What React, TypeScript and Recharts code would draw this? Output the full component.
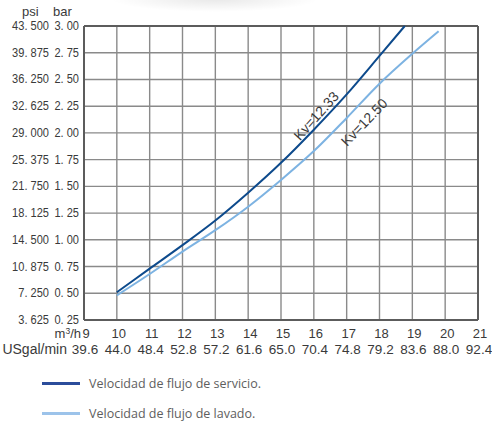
import React from 'react';
import { LineChart, Line, XAxis, YAxis, CartesianGrid, ReferenceLine, ReferenceDot, Label } from 'recharts';

// caudal m³/h y caída de presión (bar)
const servicioFlow = [10, 11, 12, 13, 14, 15, 16, 17, 18, 18.77];
const servicioBar = [0.51, 0.73, 0.95, 1.18, 1.44, 1.72, 2.03, 2.36, 2.72, 3.0];
const lavadoFlow = [10, 11, 12, 13, 14, 15, 16, 17, 18, 19, 19.8];
const lavadoBar = [0.48, 0.68, 0.89, 1.09, 1.31, 1.56, 1.83, 2.14, 2.46, 2.74, 2.95];

const xTicks = [9, 10, 11, 12, 13, 14, 15, 16, 17, 18, 19, 20, 21];
const gpmLabels = ['39.6', '44.0', '48.4', '52.8', '57.2', '61.6', '65.0', '70.4', '74.8', '79.2', '83.6', '88.0', '92.4'];
const yTicks = [0.25, 0.5, 0.75, 1.0, 1.25, 1.5, 1.75, 2.0, 2.25, 2.5, 2.75, 3.0];
const psiLabels = ['3. 625', '7. 250', '10. 875', '14. 500', '18. 125', '21. 750', '25. 375', '29. 000', '32. 625', '36. 250', '39. 875', '43. 500'];
const barLabels = ['0. 25', '0. 50', '0. 75', '1. 00', '1. 25', '1. 50', '1. 75', '2. 00', '2. 25', '2. 50', '2. 75', '3. 00'];

const servicioData = servicioFlow.map((q, i) => ({ q, p: servicioBar[i] }));
const lavadoData = lavadoFlow.map((q, i) => ({ q, p: lavadoBar[i] }));

const DARK = '#0d4a8c';
const LIGHT = '#7db3e2';
const GRID = '#8a8a8a';
const FRAME = '#5c5c5c';
const TXT = '#3a3a3a';
const SANS = '"Liberation Sans", Arial, sans-serif';

const XTick = (props: any) => {
  const { x, y, payload } = props;
  const i = xTicks.indexOf(payload.value);
  return (
    <g fontFamily={SANS} fontSize={13} fill={TXT}>
      <text x={x + 2} y={y + 18} textAnchor="middle" fill={TXT}>{payload.value}</text>
      <text x={x + 1} y={y + 34} textAnchor="middle" fill={TXT} fontSize={13.5}>{gpmLabels[i]}</text>
      {i === 0 && (
        <>
          <text x={x - 3} y={y + 18} textAnchor="end" fill={TXT}>m<tspan fontSize={8.5} dy={-4}>3</tspan><tspan dy={4}>/h</tspan></text>
          <text x={x - 17} y={y + 34} textAnchor="end" fill={TXT} fontSize={14}>USgal/min</text>
        </>
      )}
    </g>
  );
};

// etiquetas estrechas (condensadas) como en el original
const NarrowText = ({ x, y, children }: any) => (
  <text transform={`translate(${x}, ${y}) scale(0.82, 1)`} textAnchor="end" fill={TXT}>{children}</text>
);

const YTick = (props: any) => {
  const { x, y, payload } = props;
  const i = yTicks.indexOf(payload.value);
  return (
    <g fontFamily={SANS} fontSize={13.5} fill={TXT}>
      <NarrowText x={x - 35} y={y + 4}>{psiLabels[i]}</NarrowText>
      <NarrowText x={x - 5} y={y + 4}>{barLabels[i]}</NarrowText>
      {i === yTicks.length - 1 && (
        <g fontSize={13}>
          <text x={x - 62} y={y - 10} fill={TXT}>psi</text>
          <text x={x - 31} y={y - 10} fill={TXT}>bar</text>
        </g>
      )}
    </g>
  );
};

const LegendRow = ({ color, text }: { color: string; text: string }) => (
  <div style={{ display: 'flex', alignItems: 'center', height: 30 }}>
    <div style={{ width: 38, height: 3, background: color, marginRight: 9 }} />
    <span style={{ fontFamily: '"Open Sans", sans-serif', fontSize: 12.5, color: '#5e5e5e' }}>{text}</span>
  </div>
);

export default function App() {
  return (
    <div style={{ position: 'absolute', left: 0, top: 0, width: 492, height: 421, background: '#fff', overflow: 'hidden' }}>
      <div style={{ position: 'absolute', left: 110, top: -14, width: 210, height: 26, background: 'radial-gradient(ellipse at center, rgba(0,0,0,0.09), rgba(0,0,0,0) 70%)' }} />
      <LineChart width={492} height={421} margin={{ top: 26, right: 14, bottom: 61, left: 0 }}>
        <CartesianGrid stroke={GRID} strokeWidth={1.4} />
        <XAxis
          type="number"
          dataKey="q"
          domain={[9, 21]}
          ticks={xTicks}
          interval={0}
          height={40}
          tickSize={0}
          tickMargin={0}
          axisLine={{ stroke: FRAME, strokeWidth: 2 }}
          tick={<XTick />}
        />
        <YAxis
          type="number"
          dataKey="p"
          domain={[0.25, 3]}
          ticks={yTicks}
          interval={0}
          width={84}
          tickSize={0}
          tickMargin={0}
          axisLine={{ stroke: FRAME, strokeWidth: 2 }}
          tick={<YTick />}
        />
        <ReferenceLine x={21} stroke={FRAME} strokeWidth={2} />
        <ReferenceLine y={3} stroke={FRAME} strokeWidth={2} />
        <Line data={servicioData} dataKey="p" type="monotone" stroke={DARK} strokeWidth={2} dot={false} isAnimationActive={false} />
        <Line data={lavadoData} dataKey="p" type="monotone" stroke={LIGHT} strokeWidth={2} dot={false} isAnimationActive={false} />
        <ReferenceDot x={16.07} y={2.16} r={0} stroke="none" fill="none">
          <Label value="Kv=12.33" angle={-48} position="center" fill={TXT} fontSize={14} fontFamily={SANS} />
        </ReferenceDot>
        <ReferenceDot x={17.53} y={2.1} r={0} stroke="none" fill="none">
          <Label value="Kv=12.50" angle={-46} position="center" fill={TXT} fontSize={14} fontFamily={SANS} />
        </ReferenceDot>
      </LineChart>
      <div style={{ position: 'absolute', left: 42, top: 368 }}>
        <LegendRow color="#2b4d9b" text="Velocidad de flujo de servicio." />
        <LegendRow color="#9cc3ea" text="Velocidad de flujo de lavado." />
      </div>
    </div>
  );
}
